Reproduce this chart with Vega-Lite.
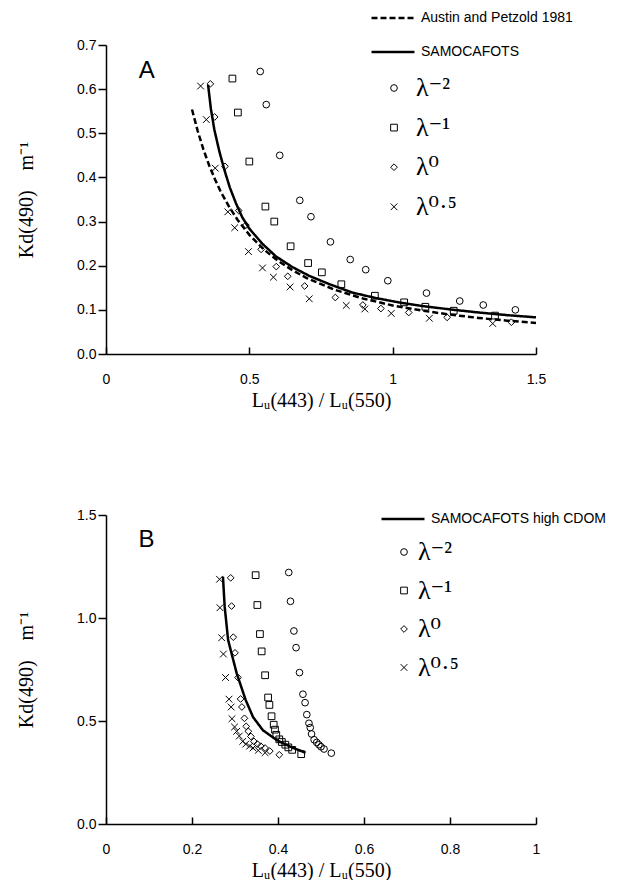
{
  "$schema": "https://vega.github.io/schema/vega-lite/v6.json",
  "padding": {"left": 16, "top": 6, "right": 5, "bottom": 5},
  "background": "white",
  "config": {
    "view": {"stroke": null},
    "axis": {
      "grid": false,
      "domainColor": "black",
      "domainWidth": 1.5,
      "tickColor": "black",
      "tickWidth": 1.5,
      "labelFont": "Liberation Sans",
      "labelFontSize": 14,
      "labelColor": "black",
      "titleFont": "Liberation Serif",
      "titleFontSize": 20,
      "titleFontWeight": "normal",
      "titleColor": "black"
    },
    "axisY": {"tickSize": 8, "labelPadding": 2, "titlePadding": 40},
    "axisX": {"tickSize": -7, "labelPadding": 25, "titlePadding": 4, "labelFlush": false},
    "legend": {"title": null, "labelLimit": 400}
  },
  "datasets": {
    "linesA": [
      {"x": 0.30, "y": 0.554, "series": "Austin and Petzold 1981"},
      {"x": 0.32, "y": 0.505, "series": "Austin and Petzold 1981"},
      {"x": 0.34, "y": 0.463, "series": "Austin and Petzold 1981"},
      {"x": 0.36, "y": 0.427, "series": "Austin and Petzold 1981"},
      {"x": 0.38, "y": 0.396, "series": "Austin and Petzold 1981"},
      {"x": 0.40, "y": 0.368, "series": "Austin and Petzold 1981"},
      {"x": 0.43, "y": 0.333, "series": "Austin and Petzold 1981"},
      {"x": 0.46, "y": 0.303, "series": "Austin and Petzold 1981"},
      {"x": 0.50, "y": 0.270, "series": "Austin and Petzold 1981"},
      {"x": 0.55, "y": 0.237, "series": "Austin and Petzold 1981"},
      {"x": 0.60, "y": 0.211, "series": "Austin and Petzold 1981"},
      {"x": 0.65, "y": 0.190, "series": "Austin and Petzold 1981"},
      {"x": 0.70, "y": 0.172, "series": "Austin and Petzold 1981"},
      {"x": 0.80, "y": 0.145, "series": "Austin and Petzold 1981"},
      {"x": 0.90, "y": 0.125, "series": "Austin and Petzold 1981"},
      {"x": 1.00, "y": 0.110, "series": "Austin and Petzold 1981"},
      {"x": 1.10, "y": 0.0986, "series": "Austin and Petzold 1981"},
      {"x": 1.20, "y": 0.0893, "series": "Austin and Petzold 1981"},
      {"x": 1.30, "y": 0.0817, "series": "Austin and Petzold 1981"},
      {"x": 1.40, "y": 0.0755, "series": "Austin and Petzold 1981"},
      {"x": 1.50, "y": 0.0702, "series": "Austin and Petzold 1981"},
      {"x": 0.356, "y": 0.610, "series": "SAMOCAFOTS"},
      {"x": 0.366, "y": 0.555, "series": "SAMOCAFOTS"},
      {"x": 0.378, "y": 0.508, "series": "SAMOCAFOTS"},
      {"x": 0.395, "y": 0.460, "series": "SAMOCAFOTS"},
      {"x": 0.413, "y": 0.417, "series": "SAMOCAFOTS"},
      {"x": 0.432, "y": 0.377, "series": "SAMOCAFOTS"},
      {"x": 0.453, "y": 0.342, "series": "SAMOCAFOTS"},
      {"x": 0.475, "y": 0.310, "series": "SAMOCAFOTS"},
      {"x": 0.500, "y": 0.284, "series": "SAMOCAFOTS"},
      {"x": 0.545, "y": 0.250, "series": "SAMOCAFOTS"},
      {"x": 0.593, "y": 0.221, "series": "SAMOCAFOTS"},
      {"x": 0.650, "y": 0.197, "series": "SAMOCAFOTS"},
      {"x": 0.709, "y": 0.177, "series": "SAMOCAFOTS"},
      {"x": 0.780, "y": 0.158, "series": "SAMOCAFOTS"},
      {"x": 0.860, "y": 0.139, "series": "SAMOCAFOTS"},
      {"x": 0.940, "y": 0.127, "series": "SAMOCAFOTS"},
      {"x": 1.020, "y": 0.117, "series": "SAMOCAFOTS"},
      {"x": 1.100, "y": 0.109, "series": "SAMOCAFOTS"},
      {"x": 1.200, "y": 0.101, "series": "SAMOCAFOTS"},
      {"x": 1.300, "y": 0.094, "series": "SAMOCAFOTS"},
      {"x": 1.400, "y": 0.088, "series": "SAMOCAFOTS"},
      {"x": 1.500, "y": 0.083, "series": "SAMOCAFOTS"}
    ],
    "pointsA": [
      {"x": 0.538, "y": 0.640, "lambda": "λ⁻²"},
      {"x": 0.559, "y": 0.565, "lambda": "λ⁻²"},
      {"x": 0.606, "y": 0.450, "lambda": "λ⁻²"},
      {"x": 0.676, "y": 0.348, "lambda": "λ⁻²"},
      {"x": 0.715, "y": 0.311, "lambda": "λ⁻²"},
      {"x": 0.783, "y": 0.254, "lambda": "λ⁻²"},
      {"x": 0.852, "y": 0.214, "lambda": "λ⁻²"},
      {"x": 0.906, "y": 0.191, "lambda": "λ⁻²"},
      {"x": 0.983, "y": 0.166, "lambda": "λ⁻²"},
      {"x": 1.118, "y": 0.138, "lambda": "λ⁻²"},
      {"x": 1.234, "y": 0.120, "lambda": "λ⁻²"},
      {"x": 1.316, "y": 0.111, "lambda": "λ⁻²"},
      {"x": 1.428, "y": 0.100, "lambda": "λ⁻²"},
      {"x": 0.441, "y": 0.624, "lambda": "λ⁻¹"},
      {"x": 0.460, "y": 0.547, "lambda": "λ⁻¹"},
      {"x": 0.500, "y": 0.436, "lambda": "λ⁻¹"},
      {"x": 0.556, "y": 0.334, "lambda": "λ⁻¹"},
      {"x": 0.587, "y": 0.300, "lambda": "λ⁻¹"},
      {"x": 0.644, "y": 0.244, "lambda": "λ⁻¹"},
      {"x": 0.705, "y": 0.206, "lambda": "λ⁻¹"},
      {"x": 0.753, "y": 0.185, "lambda": "λ⁻¹"},
      {"x": 0.821, "y": 0.158, "lambda": "λ⁻¹"},
      {"x": 0.938, "y": 0.132, "lambda": "λ⁻¹"},
      {"x": 1.040, "y": 0.117, "lambda": "λ⁻¹"},
      {"x": 1.114, "y": 0.107, "lambda": "λ⁻¹"},
      {"x": 1.213, "y": 0.098, "lambda": "λ⁻¹"},
      {"x": 1.357, "y": 0.087, "lambda": "λ⁻¹"},
      {"x": 0.364, "y": 0.612, "lambda": "λ⁰"},
      {"x": 0.379, "y": 0.537, "lambda": "λ⁰"},
      {"x": 0.415, "y": 0.425, "lambda": "λ⁰"},
      {"x": 0.463, "y": 0.325, "lambda": "λ⁰"},
      {"x": 0.488, "y": 0.292, "lambda": "λ⁰"},
      {"x": 0.541, "y": 0.237, "lambda": "λ⁰"},
      {"x": 0.594, "y": 0.198, "lambda": "λ⁰"},
      {"x": 0.634, "y": 0.176, "lambda": "λ⁰"},
      {"x": 0.693, "y": 0.154, "lambda": "λ⁰"},
      {"x": 0.800, "y": 0.128, "lambda": "λ⁰"},
      {"x": 0.896, "y": 0.111, "lambda": "λ⁰"},
      {"x": 0.959, "y": 0.103, "lambda": "λ⁰"},
      {"x": 1.056, "y": 0.094, "lambda": "λ⁰"},
      {"x": 1.190, "y": 0.083, "lambda": "λ⁰"},
      {"x": 1.414, "y": 0.072, "lambda": "λ⁰"},
      {"x": 0.330, "y": 0.607, "lambda": "λ⁰·⁵"},
      {"x": 0.350, "y": 0.531, "lambda": "λ⁰·⁵"},
      {"x": 0.381, "y": 0.421, "lambda": "λ⁰·⁵"},
      {"x": 0.425, "y": 0.322, "lambda": "λ⁰·⁵"},
      {"x": 0.449, "y": 0.286, "lambda": "λ⁰·⁵"},
      {"x": 0.497, "y": 0.232, "lambda": "λ⁰·⁵"},
      {"x": 0.546, "y": 0.195, "lambda": "λ⁰·⁵"},
      {"x": 0.584, "y": 0.174, "lambda": "λ⁰·⁵"},
      {"x": 0.642, "y": 0.152, "lambda": "λ⁰·⁵"},
      {"x": 0.709, "y": 0.125, "lambda": "λ⁰·⁵"},
      {"x": 0.838, "y": 0.110, "lambda": "λ⁰·⁵"},
      {"x": 0.903, "y": 0.102, "lambda": "λ⁰·⁵"},
      {"x": 0.995, "y": 0.092, "lambda": "λ⁰·⁵"},
      {"x": 1.128, "y": 0.081, "lambda": "λ⁰·⁵"},
      {"x": 1.349, "y": 0.069, "lambda": "λ⁰·⁵"}
    ],
    "linesB": [
      {"x": 0.272, "y": 1.201, "series": "SAMOCAFOTS high CDOM"},
      {"x": 0.276, "y": 1.055, "series": "SAMOCAFOTS high CDOM"},
      {"x": 0.284, "y": 0.893, "series": "SAMOCAFOTS high CDOM"},
      {"x": 0.304, "y": 0.731, "series": "SAMOCAFOTS high CDOM"},
      {"x": 0.325, "y": 0.601, "series": "SAMOCAFOTS high CDOM"},
      {"x": 0.342, "y": 0.519, "series": "SAMOCAFOTS high CDOM"},
      {"x": 0.365, "y": 0.455, "series": "SAMOCAFOTS high CDOM"},
      {"x": 0.398, "y": 0.406, "series": "SAMOCAFOTS high CDOM"},
      {"x": 0.431, "y": 0.373, "series": "SAMOCAFOTS high CDOM"},
      {"x": 0.464, "y": 0.346, "series": "SAMOCAFOTS high CDOM"}
    ],
    "pointsB": [
      {"x": 0.425, "y": 1.221, "lambda": "λ⁻²"},
      {"x": 0.429, "y": 1.081, "lambda": "λ⁻²"},
      {"x": 0.437, "y": 0.937, "lambda": "λ⁻²"},
      {"x": 0.442, "y": 0.856, "lambda": "λ⁻²"},
      {"x": 0.450, "y": 0.735, "lambda": "λ⁻²"},
      {"x": 0.458, "y": 0.630, "lambda": "λ⁻²"},
      {"x": 0.463, "y": 0.589, "lambda": "λ⁻²"},
      {"x": 0.467, "y": 0.531, "lambda": "λ⁻²"},
      {"x": 0.472, "y": 0.489, "lambda": "λ⁻²"},
      {"x": 0.475, "y": 0.468, "lambda": "λ⁻²"},
      {"x": 0.478, "y": 0.437, "lambda": "λ⁻²"},
      {"x": 0.484, "y": 0.409, "lambda": "λ⁻²"},
      {"x": 0.490, "y": 0.396, "lambda": "λ⁻²"},
      {"x": 0.495, "y": 0.385, "lambda": "λ⁻²"},
      {"x": 0.500, "y": 0.375, "lambda": "λ⁻²"},
      {"x": 0.507, "y": 0.364, "lambda": "λ⁻²"},
      {"x": 0.524, "y": 0.344, "lambda": "λ⁻²"},
      {"x": 0.348, "y": 1.208, "lambda": "λ⁻¹"},
      {"x": 0.352, "y": 1.063, "lambda": "λ⁻¹"},
      {"x": 0.358, "y": 0.922, "lambda": "λ⁻¹"},
      {"x": 0.362, "y": 0.838, "lambda": "λ⁻¹"},
      {"x": 0.370, "y": 0.722, "lambda": "λ⁻¹"},
      {"x": 0.377, "y": 0.614, "lambda": "λ⁻¹"},
      {"x": 0.380, "y": 0.578, "lambda": "λ⁻¹"},
      {"x": 0.385, "y": 0.523, "lambda": "λ⁻¹"},
      {"x": 0.390, "y": 0.482, "lambda": "λ⁻¹"},
      {"x": 0.393, "y": 0.458, "lambda": "λ⁻¹"},
      {"x": 0.396, "y": 0.433, "lambda": "λ⁻¹"},
      {"x": 0.403, "y": 0.411, "lambda": "λ⁻¹"},
      {"x": 0.409, "y": 0.398, "lambda": "λ⁻¹"},
      {"x": 0.417, "y": 0.385, "lambda": "λ⁻¹"},
      {"x": 0.424, "y": 0.372, "lambda": "λ⁻¹"},
      {"x": 0.433, "y": 0.360, "lambda": "λ⁻¹"},
      {"x": 0.454, "y": 0.339, "lambda": "λ⁻¹"},
      {"x": 0.290, "y": 1.195, "lambda": "λ⁰"},
      {"x": 0.292, "y": 1.058, "lambda": "λ⁰"},
      {"x": 0.296, "y": 0.907, "lambda": "λ⁰"},
      {"x": 0.300, "y": 0.831, "lambda": "λ⁰"},
      {"x": 0.307, "y": 0.711, "lambda": "λ⁰"},
      {"x": 0.313, "y": 0.607, "lambda": "λ⁰"},
      {"x": 0.316, "y": 0.568, "lambda": "λ⁰"},
      {"x": 0.322, "y": 0.513, "lambda": "λ⁰"},
      {"x": 0.326, "y": 0.474, "lambda": "λ⁰"},
      {"x": 0.331, "y": 0.450, "lambda": "λ⁰"},
      {"x": 0.337, "y": 0.425, "lambda": "λ⁰"},
      {"x": 0.344, "y": 0.401, "lambda": "λ⁰"},
      {"x": 0.352, "y": 0.388, "lambda": "λ⁰"},
      {"x": 0.360, "y": 0.378, "lambda": "λ⁰"},
      {"x": 0.370, "y": 0.369, "lambda": "λ⁰"},
      {"x": 0.381, "y": 0.354, "lambda": "λ⁰"},
      {"x": 0.403, "y": 0.336, "lambda": "λ⁰"},
      {"x": 0.264, "y": 1.188, "lambda": "λ⁰·⁵"},
      {"x": 0.265, "y": 1.050, "lambda": "λ⁰·⁵"},
      {"x": 0.269, "y": 0.904, "lambda": "λ⁰·⁵"},
      {"x": 0.273, "y": 0.825, "lambda": "λ⁰·⁵"},
      {"x": 0.278, "y": 0.711, "lambda": "λ⁰·⁵"},
      {"x": 0.286, "y": 0.606, "lambda": "λ⁰·⁵"},
      {"x": 0.291, "y": 0.568, "lambda": "λ⁰·⁵"},
      {"x": 0.293, "y": 0.511, "lambda": "λ⁰·⁵"},
      {"x": 0.299, "y": 0.471, "lambda": "λ⁰·⁵"},
      {"x": 0.304, "y": 0.450, "lambda": "λ⁰·⁵"},
      {"x": 0.310, "y": 0.427, "lambda": "λ⁰·⁵"},
      {"x": 0.318, "y": 0.401, "lambda": "λ⁰·⁵"},
      {"x": 0.325, "y": 0.388, "lambda": "λ⁰·⁵"},
      {"x": 0.334, "y": 0.378, "lambda": "λ⁰·⁵"},
      {"x": 0.342, "y": 0.369, "lambda": "λ⁰·⁵"},
      {"x": 0.354, "y": 0.357, "lambda": "λ⁰·⁵"},
      {"x": 0.370, "y": 0.346, "lambda": "λ⁰·⁵"}
    ]
  },
  "vconcat": [
    {
      "width": 430,
      "height": 309,
      "layer": [
        {
          "data": {"name": "linesA"},
          "mark": {"type": "line", "color": "black", "strokeWidth": 2.5},
          "encoding": {
            "x": {"field": "x", "type": "quantitative", "scale": {"domain": [0, 1.5], "nice": false},
                  "axis": {"values": [0, 0.5, 1, 1.5], "format": "~g", "title": "Lᵤ(443) / Lᵤ(550)"}},
            "y": {"field": "y", "type": "quantitative", "scale": {"domain": [0, 0.7], "nice": false},
                  "axis": {"values": [0, 0.1, 0.2, 0.3, 0.4, 0.5, 0.6, 0.7], "format": ".1f", "title": "Kd(490)\u00a0\u00a0\u00a0\u00a0m⁻¹"}},
            "strokeDash": {"field": "series", "type": "nominal",
                  "scale": {"domain": ["Austin and Petzold 1981", "SAMOCAFOTS"], "range": [[6, 3], [1, 0]]},
                  "legend": {"orient": "none", "legendX": 275, "legendY": -39, "symbolType": "M-2,0L2,0", "symbolSize": 462,
                             "symbolStrokeWidth": 2.5, "symbolStrokeColor": "black", "symbolFillColor": "transparent",
                             "labelFont": "Liberation Sans", "labelFontSize": 14, "labelColor": "black", "rowPadding": 15, "labelOffset": 16}}
          }
        },
        {
          "data": {"name": "pointsA"},
          "mark": {"type": "point", "filled": false, "color": "black", "strokeWidth": 1, "opacity": 1, "size": 45},
          "encoding": {
            "x": {"field": "x", "type": "quantitative"},
            "y": {"field": "y", "type": "quantitative"},
            "shape": {"field": "lambda", "type": "nominal",
                  "scale": {"domain": ["λ⁻²", "λ⁻¹", "λ⁰", "λ⁰·⁵"], "range": ["circle", "square", "diamond", "M-1,-1L1,1M-1,1L1,-1"]},
                  "legend": {"orient": "none", "legendX": 275, "legendY": 30, "symbolSize": 45, "symbolStrokeColor": "black",
                             "symbolStrokeWidth": 1, "symbolFillColor": "transparent", "labelFont": "'Liberation Serif', 'DejaVu Serif', serif",
                             "labelFontSize": 26, "labelColor": "black", "rowPadding": 13.6, "labelOffset": 9}}
          }
        },
        {
          "data": {"values": [{}]},
          "mark": {"type": "text", "text": "A", "font": "Liberation Sans", "fontSize": 24, "align": "center", "baseline": "alphabetic", "color": "black"},
          "encoding": {"x": {"datum": 0.142}, "y": {"datum": 0.626}}
        }
      ]
    },
    {
      "width": 430,
      "height": 309,
      "layer": [
        {
          "data": {"name": "linesB"},
          "mark": {"type": "line", "color": "black", "strokeWidth": 2.5},
          "encoding": {
            "x": {"field": "x", "type": "quantitative", "scale": {"domain": [0, 1], "nice": false},
                  "axis": {"values": [0, 0.2, 0.4, 0.6, 0.8, 1], "format": "~g", "title": "Lᵤ(443) / Lᵤ(550)"}},
            "y": {"field": "y", "type": "quantitative", "scale": {"domain": [0, 1.5], "nice": false},
                  "axis": {"values": [0, 0.5, 1, 1.5], "format": ".1f", "title": "Kd(490)\u00a0\u00a0\u00a0\u00a0m⁻¹"}},
            "strokeDash": {"field": "series", "type": "nominal",
                  "scale": {"domain": ["SAMOCAFOTS high CDOM"], "range": [[1, 0]]},
                  "legend": {"orient": "none", "legendX": 285, "legendY": -8, "symbolType": "M-2,0L2,0", "symbolSize": 462,
                             "symbolStrokeWidth": 2.5, "symbolStrokeColor": "black", "symbolFillColor": "transparent",
                             "labelFont": "Liberation Sans", "labelFontSize": 14, "labelColor": "black", "labelOffset": 16}}
          }
        },
        {
          "data": {"name": "pointsB"},
          "mark": {"type": "point", "filled": false, "color": "black", "strokeWidth": 1, "opacity": 1, "size": 45},
          "encoding": {
            "x": {"field": "x", "type": "quantitative"},
            "y": {"field": "y", "type": "quantitative"},
            "shape": {"field": "lambda", "type": "nominal",
                  "scale": {"domain": ["λ⁻²", "λ⁻¹", "λ⁰", "λ⁰·⁵"], "range": ["circle", "square", "diamond", "M-1,-1L1,1M-1,1L1,-1"]},
                  "legend": {"orient": "none", "legendX": 285, "legendY": 24, "symbolSize": 45, "symbolStrokeColor": "black",
                             "symbolStrokeWidth": 1, "symbolFillColor": "transparent", "labelFont": "'Liberation Serif', 'DejaVu Serif', serif",
                             "labelFontSize": 26, "labelColor": "black", "rowPadding": 12.5, "labelOffset": 1}}
          }
        },
        {
          "data": {"values": [{}]},
          "mark": {"type": "text", "text": "B", "font": "Liberation Sans", "fontSize": 24, "align": "center", "baseline": "alphabetic", "color": "black"},
          "encoding": {"x": {"datum": 0.094}, "y": {"datum": 1.345}}
        }
      ],
      "resolve": {"scale": {"shape": "independent", "strokeDash": "independent"}}
    }
  ],
  "spacing": 161,
  "bounds": "flush",
  "resolve": {
    "scale": {"x": "independent", "y": "independent", "shape": "independent", "strokeDash": "independent"},
    "legend": {"shape": "independent", "strokeDash": "independent"}
  }
}
